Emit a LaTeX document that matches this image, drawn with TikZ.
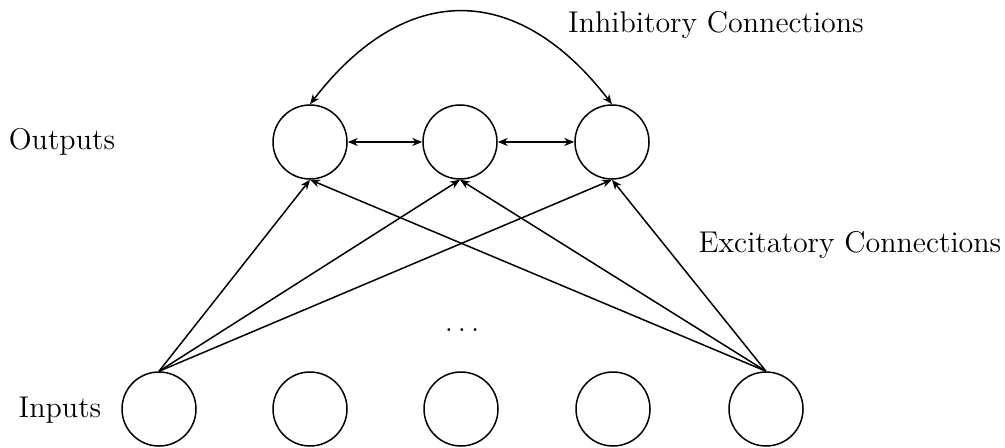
\documentclass[tikz,border=0pt]{standalone}
\usetikzlibrary{arrows.meta}
\begin{document}
\begin{tikzpicture}[x=0.4pt,y=0.4pt,
  unit/.style={draw,circle,line width=0.6pt,minimum size=29.6pt,inner sep=0pt},
  conn/.style={line width=0.6pt,-{Stealth[length=4pt,width=3.2pt]}},
  biconn/.style={line width=0.6pt,{Stealth[length=4pt,width=3.2pt]}-{Stealth[length=4pt,width=3.2pt]}},
  lbl/.style={font=\fontsize{12}{14}\selectfont,inner sep=0pt}]
\useasboundingbox (0,0) rectangle (1005,447);
% output layer
\node[unit] (o1) at (310,305) {};
\node[unit] (o2) at (460,305) {};
\node[unit] (o3) at (612,305) {};
% input layer
\node[unit] (i1) at (159,38) {};
\node[unit] (i2) at (310,38) {};
\node[unit] (i3) at (461,38) {};
\node[unit] (i4) at (613,38) {};
\node[unit] (i5) at (766,38) {};
% labels
\node[lbl] (tin) at (716,422) {Inhibitory Connections};
\node[lbl] (tout) at (62,305) {Outputs};
\node[lbl] (tex) at (850,202) {Excitatory Connections};
\node[lbl] (tinp) at (60,37) {Inputs};
\node[lbl] (dots) at (462,117) {$\ldots$};
% lateral inhibition
\draw[biconn] (o1.north) .. controls (405,466) and (517,466) .. (o3.north);
\draw[biconn] (o1.east) -- (o2.west);
\draw[biconn] (o2.east) -- (o3.west);
% feed-forward excitation
\foreach \s in {i1,i5}
  \foreach \t in {o1,o2,o3}
    \draw[conn] (\s.north) -- (\t.south);
\end{tikzpicture}
\end{document}
